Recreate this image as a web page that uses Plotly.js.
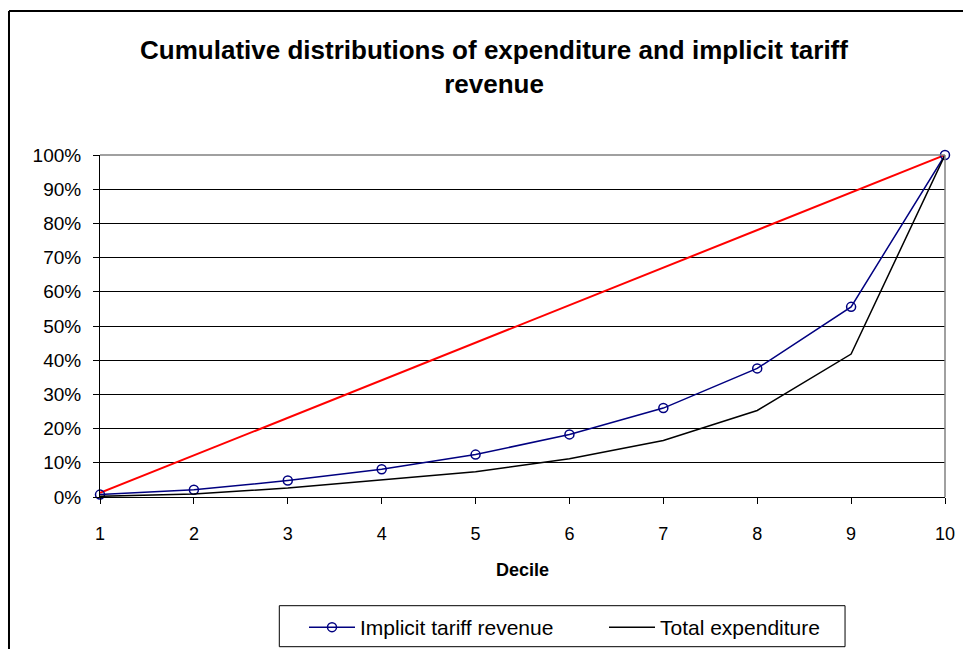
<!DOCTYPE html>
<html>
<head>
<meta charset="utf-8">
<script src="https://cdn.plot.ly/plotly-3.0.1.min.js"></script>
<style>
  html, body { margin: 0; padding: 0; background: #fff; }
  #chart { width: 963px; height: 649px; }
</style>
</head>
<body>
<div id="chart"></div>
<script>
// deciles and cumulative shares
var deciles = [1, 2, 3, 4, 5, 6, 7, 8, 9, 10];
var tariffRevenue = [0.007, 0.021, 0.048, 0.081, 0.124, 0.183, 0.260, 0.376, 0.556, 1.0];
var totalExpenditure = [0.002, 0.009, 0.026, 0.051, 0.074, 0.112, 0.165, 0.253, 0.418, 1.0];
var equalityX = [1, 10];
var equalityY = [0.012, 1.0];

var font = 'Liberation Sans, Arial, sans-serif';

var equality = {
    x: equalityX,
    y: equalityY,
    mode: 'lines',
    showlegend: false,
    hoverinfo: 'skip',
    line: {color: '#ff0000', width: 2}
};

var revenue = {
    x: deciles,
    y: tariffRevenue,
    mode: 'lines+markers',
    name: 'Implicit tariff revenue',
    cliponaxis: false,
    line: {color: '#000080', width: 1.5},
    marker: {symbol: 'circle-open', size: 9, color: '#000080', line: {width: 1.5, color: '#000080'}}
};

var expenditure = {
    x: deciles,
    y: totalExpenditure,
    mode: 'lines',
    name: 'Total expenditure',
    cliponaxis: false,
    line: {color: '#000000', width: 1.5}
};

var data = [equality, revenue, expenditure];

var layout = {
    width: 963,
    height: 649,
    margin: {l: 100, r: 18, t: 155, b: 152},
    paper_bgcolor: '#ffffff',
    plot_bgcolor: '#ffffff',
    font: {family: font, size: 18, color: '#000'},
    title: {
        text: 'Cumulative distributions of expenditure and implicit tariff<br>revenue',
        font: {family: font, size: 26, weight: 'bold', color: '#000'},
        xref: 'container', x: 0.513, xanchor: 'center',
        yref: 'container', y: 0.909, yanchor: 'middle'
    },
    xaxis: {
        range: [1, 10],
        tickvals: deciles,
        ticks: 'outside', ticklen: 6, tickcolor: '#000',
        ticklabelstandoff: 14,
        showline: true, linecolor: '#000', linewidth: 1,
        showgrid: false, zeroline: false,
        title: {text: 'Decile', font: {family: font, size: 18, weight: 'bold'}, standoff: 20}
    },
    yaxis: {
        range: [0, 1],
        dtick: 0.1,
        tickformat: '.0%',
        ticks: 'outside', ticklen: 6, tickcolor: '#000',
        tickfont: {size: 19},
        ticklabelstandoff: 8,
        showline: true, linecolor: '#000', linewidth: 1,
        showgrid: true, gridcolor: '#000', gridwidth: 1,
        zeroline: false
    },
    showlegend: true,
    legend: {
        orientation: 'h',
        xref: 'container', x: 304 / 963, xanchor: 'left',
        yref: 'container', y: (649 - 607) / 649, yanchor: 'top',
        bgcolor: 'rgba(0,0,0,0)',
        borderwidth: 0,
        font: {family: font, size: 21},
        entrywidth: 239,
        itemwidth: 46
    },
    shapes: [
        // grey plot-area border (top and right)
        {type: 'line', xref: 'paper', yref: 'paper', x0: 0, x1: 1, y0: 1, y1: 1, line: {color: '#808080', width: 1.5}},
        {type: 'line', xref: 'paper', yref: 'paper', x0: 1, x1: 1, y0: 0, y1: 1, line: {color: '#808080', width: 1.5}},
        // chart frame
        {type: 'line', xref: 'paper', yref: 'paper', x0: -0.1077, x1: -0.1077, y0: -0.5, y1: 1.421, line: {color: '#000', width: 2}},
        {type: 'line', xref: 'paper', yref: 'paper', x0: -0.1077, x1: 1.1, y0: 1.421, y1: 1.421, line: {color: '#000', width: 2}},
        // legend box
        {type: 'rect', xref: 'paper', yref: 'paper', x0: 0.2122, x1: 0.8817, y0: -0.3178, y1: -0.4377, line: {color: '#000', width: 1}}
    ]
};

Plotly.newPlot('chart', data, layout, {displayModeBar: false, staticPlot: true});
</script>
</body>
</html>
